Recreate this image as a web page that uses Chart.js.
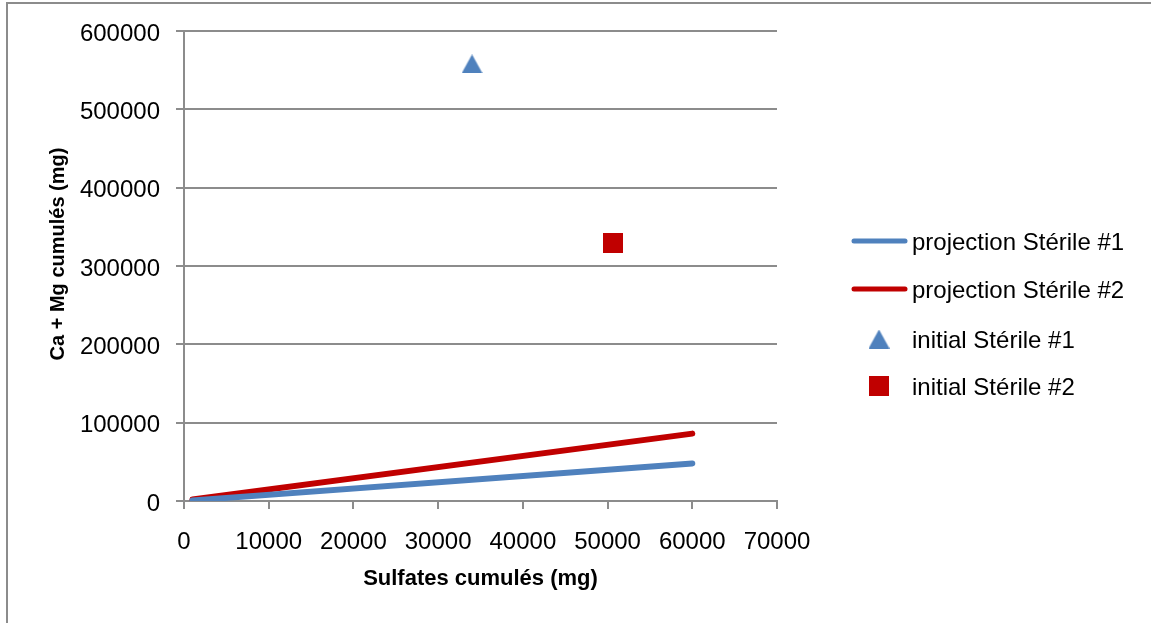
<!DOCTYPE html>
<html>
<head>
<meta charset="utf-8">
<script src="https://cdn.jsdelivr.net/npm/chart.js@4/dist/chart.umd.min.js"></script>
<style>
  html, body { margin: 0; padding: 0; background: #fff; }
  #wrap { width: 1151px; height: 623px; }
</style>
</head>
<body>
<div id="wrap"><canvas id="c" width="1151" height="623"></canvas></div>
<script>
// Series labels
const seriesNames = ['projection Stérile #1', 'projection Stérile #2', 'initial Stérile #1', 'initial Stérile #2'];
// Projection lines (sulfates on x, Ca + Mg on y)
const projectionX = [1000, 60000];
const projection1Y = [800, 48000];
const projection2Y = [2000, 86000];
// Initial measured points
const initial1X = [34000];
const initial1Y = [558000];
const initial2X = [50600];
const initial2Y = [330000];
// Axis ticks
const xTicks = [0, 10000, 20000, 30000, 40000, 50000, 60000, 70000];
const yTicks = [0, 100000, 200000, 300000, 400000, 500000, 600000];
// Axis titles
const xTitle = 'Sulfates cumulés (mg)';
const yTitle = 'Ca + Mg cumulés (mg)';

const BLUE = '#4f81bd';
const RED = '#c00000';
const GRID = '#8c8c8c';
const FONT = "'Liberation Sans', Arial, sans-serif";

function toPoints(xs, ys) { return xs.map((x, i) => ({ x: x, y: ys[i] })); }

// Marker sprites, centred on their bounding box
function triangleSprite(color) {
  const c = document.createElement('canvas');
  c.width = 21; c.height = 19;
  const g = c.getContext('2d');
  g.fillStyle = color;
  g.beginPath(); g.moveTo(10.5, 0); g.lineTo(21, 19); g.lineTo(0, 19); g.closePath(); g.fill();
  return c;
}
function squareSprite(color) {
  const c = document.createElement('canvas');
  c.width = 20; c.height = 20;
  const g = c.getContext('2d');
  g.fillStyle = color;
  g.fillRect(0, 0, 20, 20);
  return c;
}
const triImg = triangleSprite(BLUE);
const sqImg = squareSprite(RED);

// Outer frame of the chart object
const framePlugin = {
  id: 'frame',
  beforeDraw(chart) {
    const ctx = chart.ctx;
    ctx.save();
    ctx.fillStyle = '#fff';
    ctx.fillRect(0, 0, chart.width, chart.height);
    ctx.strokeStyle = '#8c8c8c';
    ctx.lineWidth = 2;
    ctx.strokeRect(7, 3, chart.width + 20, chart.height + 20);
    ctx.restore();
  }
};

// Vertical axis title, rotated
const yTitlePlugin = {
  id: 'yTitle',
  afterDraw(chart) {
    const ctx = chart.ctx;
    ctx.save();
    ctx.translate(58, 254);
    ctx.rotate(-Math.PI / 2);
    ctx.font = 'bold 20px ' + FONT;
    ctx.fillStyle = '#000';
    ctx.textAlign = 'center';
    ctx.textBaseline = 'middle';
    ctx.fillText(yTitle, 0, 0);
    ctx.restore();
  }
};

// Legend drawn at the right of the plot
const legendPlugin = {
  id: 'sideLegend',
  afterDraw(chart) {
    const ctx = chart.ctx;
    const rows = [241, 289, 339, 386];
    ctx.save();
    ctx.font = '24px ' + FONT;
    ctx.fillStyle = '#000';
    ctx.textBaseline = 'middle';
    ctx.textAlign = 'left';
    chart.data.datasets.forEach((ds, i) => {
      const y = rows[i];
      if (ds.showLine) {
        ctx.strokeStyle = ds.borderColor;
        ctx.lineWidth = 5;
        ctx.lineCap = 'round';
        ctx.beginPath(); ctx.moveTo(854, y); ctx.lineTo(905, y); ctx.stroke();
      } else {
        const img = ds.pointStyle;
        ctx.drawImage(img, 879 - img.width / 2, y - img.height / 2);
      }
      ctx.fillText(ds.label, 912, y + 2);
    });
    ctx.restore();
  }
};

new Chart(document.getElementById('c'), {
  type: 'scatter',
  data: {
    datasets: [
      { label: seriesNames[0], data: toPoints(projectionX, projection1Y), showLine: true,
        borderColor: BLUE, backgroundColor: BLUE, borderWidth: 6, pointRadius: 0, borderCapStyle: 'round' },
      { label: seriesNames[1], data: toPoints(projectionX, projection2Y), showLine: true,
        borderColor: RED, backgroundColor: RED, borderWidth: 6, pointRadius: 0, borderCapStyle: 'round' },
      { label: seriesNames[2], data: toPoints(initial1X, initial1Y), showLine: false,
        pointStyle: triImg, pointRadius: 10, backgroundColor: BLUE, borderColor: BLUE },
      { label: seriesNames[3], data: toPoints(initial2X, initial2Y), showLine: false,
        pointStyle: sqImg, pointRadius: 10, backgroundColor: RED, borderColor: RED }
    ]
  },
  options: {
    responsive: false,
    animation: false,
    devicePixelRatio: 1,
    layout: { padding: { left: 0, top: 31, right: 374, bottom: 0 } },
    plugins: { legend: { display: false }, tooltip: { enabled: false } },
    scales: {
      x: {
        type: 'linear', min: 0, max: 70000,
        afterFit(s) { s.height = 122; },
        afterBuildTicks(s) { s.ticks = xTicks.map(v => ({ value: v })); },
        ticks: { color: '#000', font: { family: FONT, size: 24 }, padding: 19, maxRotation: 0,
                 callback: v => String(v) },
        grid: { display: true, drawOnChartArea: false, drawTicks: true, tickLength: 8, color: GRID, lineWidth: 2 },
        border: { display: true, color: GRID, width: 2 },
        title: { display: true, text: xTitle, color: '#000',
                 font: { family: FONT, size: 22, weight: 'bold' }, padding: { top: 0, bottom: 31 } }
      },
      y: {
        type: 'linear', min: 0, max: 600000,
        afterFit(s) { s.width = 184; },
        afterBuildTicks(s) { s.ticks = yTicks.map(v => ({ value: v })); },
        ticks: { color: '#000', font: { family: FONT, size: 24 }, padding: 16, labelOffset: 3,
                 callback: v => String(v) },
        grid: { display: true, drawOnChartArea: true, drawTicks: true, tickLength: 8, color: GRID, lineWidth: 2 },
        border: { display: true, color: GRID, width: 2 },
        title: { display: false }
      }
    }
  },
  plugins: [framePlugin, yTitlePlugin, legendPlugin]
});
</script>
</body>
</html>
